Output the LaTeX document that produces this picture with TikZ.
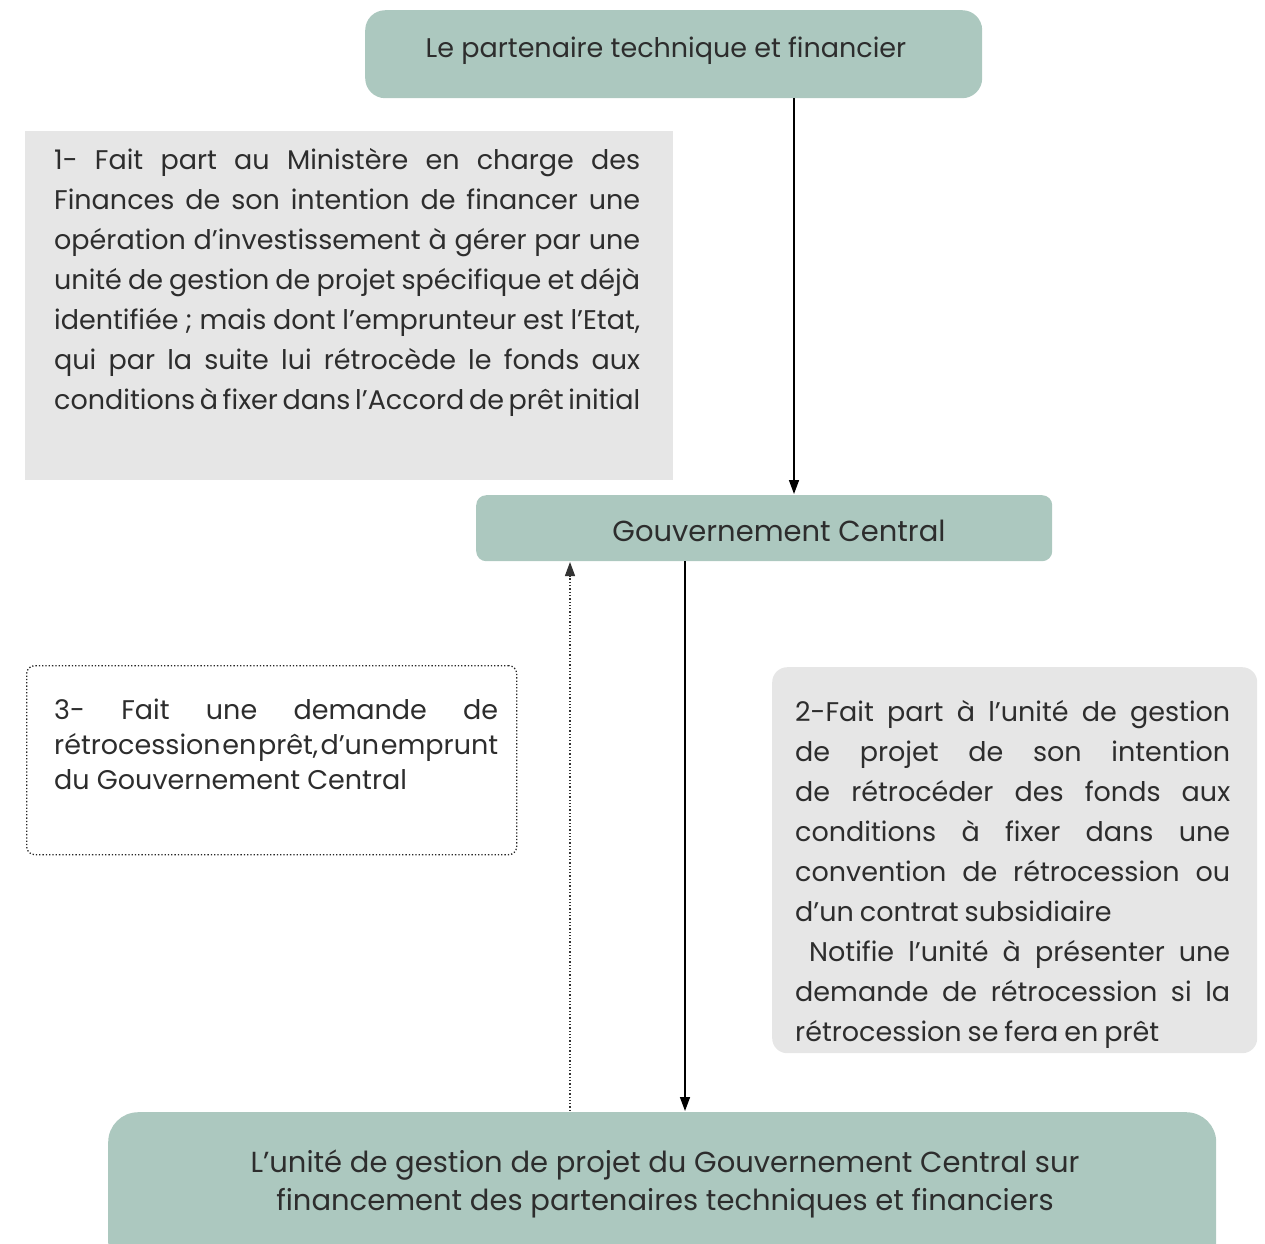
\documentclass[tikz,border=0pt]{standalone}
\usepackage{fontspec}
\setmainfont{Poppins}
\usetikzlibrary{arrows.meta}
\definecolor{sage}{RGB}{172,200,191}
\definecolor{lgray}{RGB}{230,230,230}
\definecolor{txt}{RGB}{45,45,45}
\newcommand{\tightjust}{\hyphenpenalty=10000\exhyphenpenalty=10000\tolerance=10000\spaceskip=0.22em plus 2em minus 0.12em\xspaceskip=\spaceskip}
\newcommand{\tighterjust}{\hyphenpenalty=10000\exhyphenpenalty=10000\tolerance=10000\spaceskip=0.15em plus 2em minus 0.12em\xspaceskip=\spaceskip}
\tikzset{
  x=1pt,y=-1pt,
  greenbox/.style={fill=sage,draw=none,anchor=north west,inner sep=0pt},
  graybox/.style={fill=lgray,draw=none,anchor=north west,inner sep=0pt},
  bodytext/.style={anchor=north west,inner sep=0pt,text=txt,align=justify},
  conn/.style={line width=1.5pt,draw=black,-{Triangle[length=14pt,width=10pt]}},
  dotconn/.style={line width=1.3pt,draw=black!80,dotted,-{Triangle[length=14pt,width=10pt]}},
}
\begin{document}
\begin{tikzpicture}
\useasboundingbox (0,0) rectangle (1265,1243);
\clip (0,0) rectangle (1265,1243);
% top box
\node[greenbox,rounded corners=20pt,minimum width=617pt,minimum height=88pt] (top) at (365,10) {};
\node[text=txt,font=\fontsize{27}{30}\selectfont] (toptext) at (666,51) {Le partenaire technique et financier};
% gray box 1
\node[graybox,minimum width=648pt,minimum height=349pt] (b1) at (25,131) {};
\node[bodytext,text width=586pt,font=\fontsize{27}{40}\selectfont] (b1text) at (54,148) {\tightjust 1- Fait part au Ministère en charge des\linebreak Finances de son intention de financer une\linebreak opération d’investissement à gérer par une\linebreak unité de gestion de projet spécifique et déjà\linebreak identifiée ; mais dont l’emprunteur est l’Etat,\linebreak qui par la suite lui rétrocède le fonds aux\linebreak conditions à fixer dans l’Accord de prêt initial\parfillskip=0pt\par};
% Gouvernement
\node[greenbox,rounded corners=10pt,minimum width=576pt,minimum height=66pt] (gov) at (476,495) {};
\node[text=txt,font=\fontsize{29}{32}\selectfont] (govtext) at (779,531) {Gouvernement Central};
% dotted box 3
\node[anchor=north west,inner sep=0pt,draw=black!85,dotted,line width=1.3pt,rounded corners=8pt,minimum width=490pt,minimum height=189pt] (b3) at (26,665) {};
\node[bodytext,text width=444pt,font=\fontsize{27}{35}\selectfont] (b3text) at (54,699) {{\tighterjust 3- Fait une demande de\linebreak rétrocession en prêt, d’un emprunt\parfillskip=0pt\par}
du Gouvernement Central\par};
% gray box 2
\node[graybox,rounded corners=15pt,minimum width=485pt,minimum height=386pt] (b2) at (772,667) {};
\node[bodytext,text width=435pt,font=\fontsize{27}{40}\selectfont] (b2text) at (795,700) {\tightjust 2-Fait part à l’unité de gestion\linebreak de projet de son intention\linebreak de rétrocéder des fonds aux\linebreak conditions à fixer dans une\linebreak convention de rétrocession ou\linebreak d’un contrat subsidiaire\par
\hspace*{14pt}Notifie l’unité à présenter une\linebreak demande de rétrocession si la\linebreak rétrocession se fera en prêt\par};
% bottom box
\node[greenbox,rounded corners=30pt,minimum width=1108pt,minimum height=160pt] (bot) at (108,1112) {};
\node[text=txt,align=center,font=\fontsize{29}{38}\selectfont] (bottext) at (665,1184) {L’unité de gestion de projet du Gouvernement Central sur\\financement des partenaires techniques et financiers};
% connectors
\coordinate (a1) at (794,98);
\coordinate (a2) at (794,494);
\draw[conn] (a1) -- (a2);
\coordinate (c1) at (685,561);
\coordinate (c2) at (685,1111);
\draw[conn] (c1) -- (c2);
\coordinate (d1) at (570,1111);
\coordinate (d2) at (570,562);
\draw[dotconn] (d1) -- (d2);
\end{tikzpicture}
\end{document}
